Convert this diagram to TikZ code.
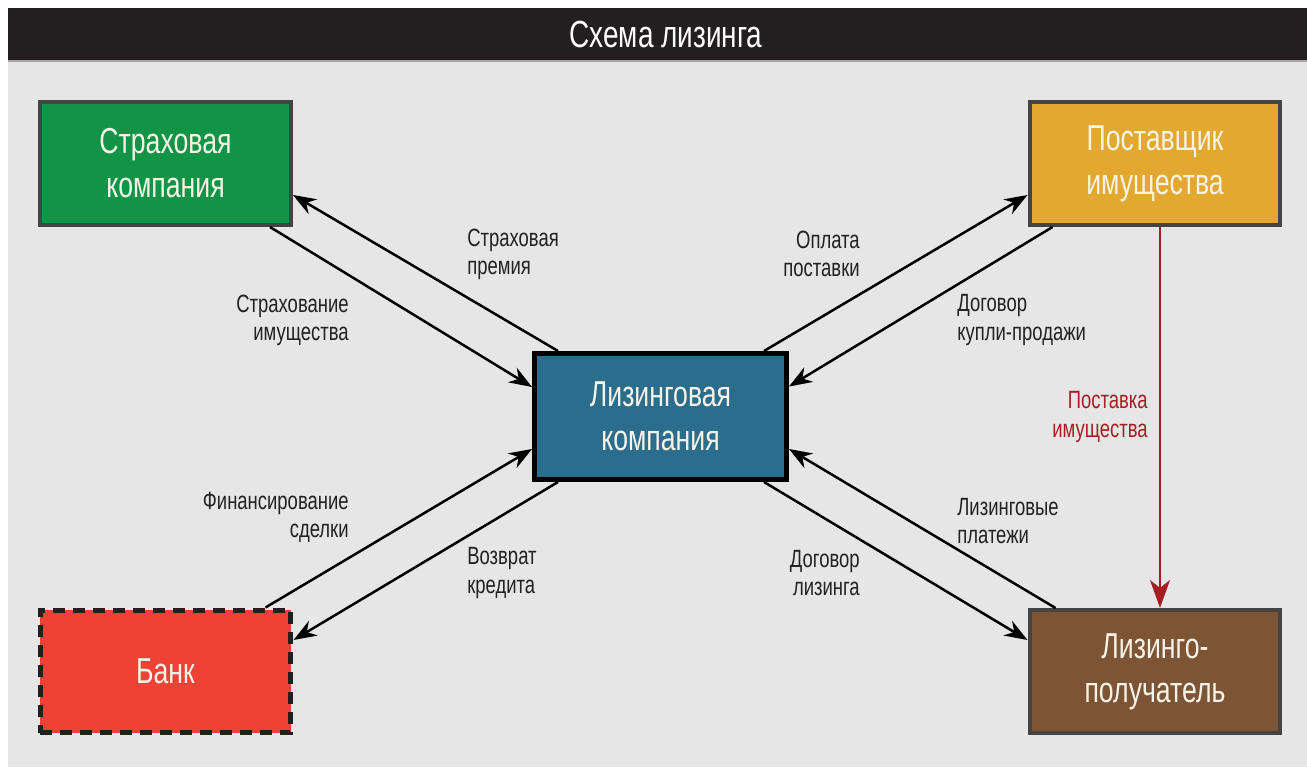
\documentclass[tikz,border=0pt]{standalone}
\usepackage{fontspec}
\setmainfont{Liberation Sans}[FakeStretch=0.74]
\usepackage{xcolor}
\usepackage{tikz}
\usetikzlibrary{arrows.meta, positioning, calc}
\definecolor{lsgray}{RGB}{230, 230, 230}
\definecolor{lsbar}{RGB}{35, 31, 32}
\definecolor{lsframe}{RGB}{68, 68, 68}
\definecolor{lstext}{RGB}{35, 33, 33}
\definecolor{lscream}{RGB}{248, 243, 232}
\definecolor{lsgreen}{RGB}{17, 148, 69}
\definecolor{lsgold}{RGB}{227, 168, 47}
\definecolor{lsblue}{RGB}{43, 109, 141}
\definecolor{lsred}{RGB}{239, 65, 54}
\definecolor{lsbrown}{RGB}{125, 84, 52}
\definecolor{lsarrow}{RGB}{167, 30, 34}

\tikzset{
	box/.style={draw=lsframe, line width=0.08cm, minimum width=5.02cm, minimum height=2.46cm,
		inner sep=0pt, align=center, text=lscream, font=\fontsize{20.5}{25}\selectfont},
	lbl/.style={inner sep=0pt, text=lstext, font=\fontsize{14.2}{16}\selectfont},
	flow/.style={line width=0.05cm, -{Stealth[length=0.46cm, width=0.34cm]}}
}

\begin{document}
\begin{tikzpicture}[x=0.02cm, y=-0.02cm]
			% Background and title bar
			\useasboundingbox (0,0) rectangle (1307,767);
			\fill[white] (0,0) rectangle (1307,767);
			\fill[lsgray] (8,8) rectangle (1307,767);
			\fill[lsbar] (8,8) rectangle (1307,60);
			\fill[gray!70] (8,60) rectangle (1307,62);
			\node[anchor=base, text=white, font=\fontsize{21.5}{25}\selectfont] (title) at (666,48) {Схема лизинга};

			% Participants
			\node[box, fill=lsgreen] (ins) at (165.5,163.5) {Страховая\\компания};
			\node[box, fill=lsgold] (sup) at (1155,163.5) {Поставщик\\имущества};
			\node[box, fill=lsblue, draw=black, line width=0.1cm, minimum width=5.04cm, minimum height=2.52cm] (lease) at (660.5,416.5) {Лизинговая\\компания};
			\node[box, fill=lsred, draw=lsbar, line width=0.1cm, dash pattern=on 0.24cm off 0.16cm] (bank) at (165.5,671.5) {Банк};
			\node[box, fill=lsbrown] (lessee) at (1155,671.5) {Лизинго-\\получатель};

			% Flows between the insurer and the leasing company
			\draw[flow] ([xshift=-0.46cm]ins.south east) -- ([yshift=0.59cm]lease.west);
			\draw[flow] ([xshift=0.52cm]lease.north west) -- ([yshift=-0.63cm]ins.east);
			\node[lbl, anchor=west, align=left] (lpremium) at (467,254) {Страховая\\премия};
			\node[lbl, anchor=east, align=right] (lcover) at (349,320) {Страхование\\имущества};

			% Flows between the supplier and the leasing company
			\draw[flow] ([xshift=-0.5cm]lease.north east) -- ([yshift=-0.63cm]sup.west);
			\draw[flow] ([xshift=0.5cm]sup.south west) -- ([yshift=0.6cm]lease.east);
			\node[lbl, anchor=east, align=right] (lpay) at (860,254) {Оплата\\поставки};
			\node[lbl, anchor=west, align=left] (lsale) at (957,320) {Договор\\купли-продажи};

			% Delivery of the property
			\draw[line width=0.04cm, draw=lsarrow, -{Stealth[length=0.56cm, width=0.4cm, inset=0.16cm]}]
				([xshift=0.1cm]sup.south) -- ([xshift=0.1cm]lessee.north);
			\node[lbl, anchor=east, align=right, text=lsarrow] (ldeliver) at (1148,417) {Поставка\\имущества};

			% Flows between the bank and the leasing company
			\draw[flow] ([xshift=-0.56cm]bank.north east) -- ([yshift=-0.65cm]lease.west);
			\draw[flow] ([xshift=0.52cm]lease.south west) -- ([yshift=0.63cm]bank.east);
			\node[lbl, anchor=east, align=right] (lfinance) at (349,517) {Финансирование\\сделки};
			\node[lbl, anchor=west, align=left] (lrepay) at (467,573) {Возврат\\кредита};

			% Flows between the lessee and the leasing company
			\draw[flow] ([xshift=0.56cm]lessee.north west) -- ([yshift=-0.65cm]lease.east);
			\draw[flow] ([xshift=-0.5cm]lease.south east) -- ([yshift=0.63cm]lessee.west);
			\node[lbl, anchor=west, align=left] (lrent) at (957,521) {Лизинговые\\платежи};
			\node[lbl, anchor=east, align=right] (lcontract) at (860,573) {Договор\\лизинга};

		\end{tikzpicture}
\end{document}
